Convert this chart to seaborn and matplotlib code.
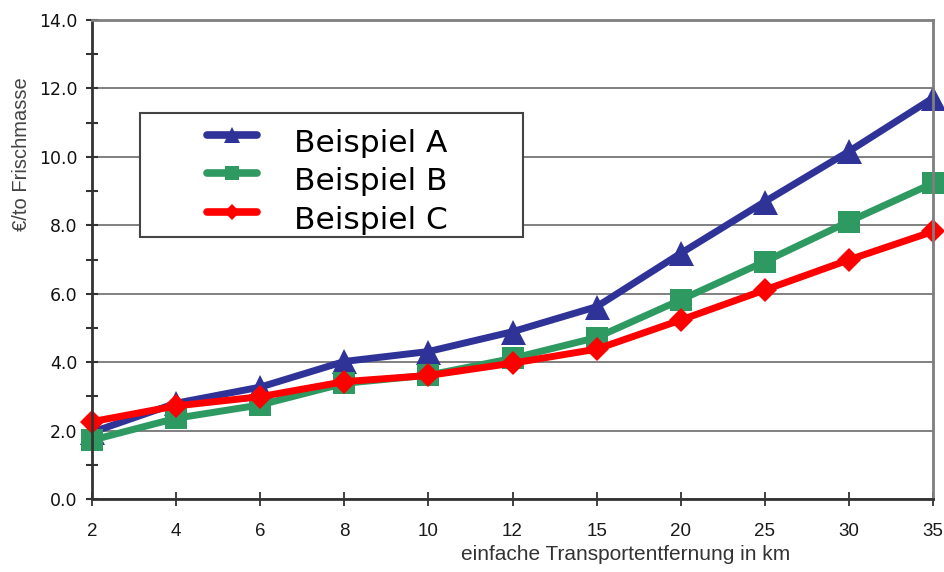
import numpy as np
import pandas as pd
import matplotlib
matplotlib.use("Agg")
import matplotlib.pyplot as plt
import seaborn as sns
from matplotlib.lines import Line2D
from matplotlib.patches import Rectangle
from matplotlib.legend_handler import HandlerLine2D

# Transportkosten je Tonne Frischmasse nach einfacher Entfernung
distances = ["2", "4", "6", "8", "10", "12", "15", "20", "25", "30", "35"]
beispiel_a = [1.95, 2.80, 3.27, 4.02, 4.31, 4.89, 5.62, 7.18, 8.69, 10.16, 11.72]
beispiel_b = [1.72, 2.36, 2.75, 3.38, 3.62, 4.11, 4.72, 5.82, 6.94, 8.11, 9.23]
beispiel_c = [2.26, 2.72, 2.99, 3.43, 3.61, 3.97, 4.38, 5.23, 6.11, 6.99, 7.82]
series_names = ["Beispiel A", "Beispiel B", "Beispiel C"]
y_ticks = [0, 2, 4, 6, 8, 10, 12, 14]

colors = ["#2F3398", "#2E9A62", "#FF0000"]
markers = ["^", "s", "D"]
marker_sizes = [18, 16.5, 12.5]
legend_marker_sizes = [11, 10, 8]

df = pd.DataFrame({
    "km": distances * 3,
    "kosten": beispiel_a + beispiel_b + beispiel_c,
    "serie": np.repeat(series_names, len(distances)),
})


class RaisedLineHandler(HandlerLine2D):
    """Legend sample drawn slightly above the text's vertical centre."""

    def create_artists(self, legend, orig_handle, xdescent, ydescent,
                       width, height, fontsize, trans):
        artists = super().create_artists(legend, orig_handle, xdescent, ydescent,
                                         width, height, fontsize, trans)
        for art in artists:
            art.set_ydata(np.asarray(art.get_ydata()) + 0.28 * height)
        return artists


sns.set_style("white")
plt.rcParams["font.family"] = ["Liberation Sans", "DejaVu Sans"]

fig = plt.figure(figsize=(9.44, 5.72), dpi=100)
ax = fig.add_axes([92 / 944, 73 / 572, 841 / 944, 479 / 572])

for name, col, mk, ms in zip(series_names, colors, markers, marker_sizes):
    sns.pointplot(
        data=df[df["serie"] == name], x="km", y="kosten", order=distances,
        color=col, markers=mk, markersize=ms, linewidth=5,
        markeredgewidth=0, errorbar=None, ax=ax, clip_on=False,
    )

ax.set_xlim(0, len(distances) - 1)
ax.set_ylim(0, 14)
ax.set_yticks(y_ticks)
ax.set_yticklabels([f"{v:.1f}" for v in y_ticks], fontfamily="DejaVu Sans",
                   fontsize=12.5, color="#111111")
ax.set_yticks(np.arange(1, 14, 2), minor=True)

ax.set_axisbelow(True)
ax.yaxis.grid(True, which="major", color="#808080", linewidth=1.4)
ax.xaxis.grid(False)

for side in ("left", "bottom"):
    ax.spines[side].set_color("#333333")
    ax.spines[side].set_linewidth(2)
for side in ("top", "right"):
    ax.spines[side].set_color("#7F7F7F")
    ax.spines[side].set_linewidth(2)
    ax.spines[side].set_visible(True)

ax.tick_params(axis="y", which="both", direction="inout", length=9, width=1.5,
               color="#333333", pad=6, left=True)
ax.tick_params(axis="x", direction="inout", length=10, width=1.3,
               color="#333333", pad=12, labelsize=13.5, labelcolor="#1A1A1A",
               bottom=True)

ax.set_xlabel("einfache Transportentfernung in km", fontsize=15, color="#333333")
ax.xaxis.set_label_coords(0.634, -0.097)
ax.set_ylabel("€/to Frischmasse", fontsize=14.5, color="#444444")
ax.yaxis.set_label_coords(-0.072, 0.72)

# Legendenrahmen
ax.add_patch(Rectangle((0.0571, 0.547), 0.4554, 0.2589, transform=ax.transAxes,
                       facecolor="white", edgecolor="#444444", linewidth=1.5,
                       zorder=3))

handles = [
    Line2D([], [], color=c, linewidth=5.5, marker=m, markersize=s,
           markeredgewidth=0, solid_capstyle="round")
    for c, m, s in zip(colors, markers, legend_marker_sizes)
]
leg = ax.legend(handles, series_names, loc="center left",
                bbox_to_anchor=(0.1367, 0.662), frameon=False,
                handlelength=1.6, handletextpad=1.2, labelspacing=0.3,
                borderpad=0, borderaxespad=0,
                handler_map={Line2D: RaisedLineHandler()},
                prop={"family": "DejaVu Sans", "size": 22.5})
for txt in leg.get_texts():
    txt.set_color("black")
leg.set_zorder(5)

fig.savefig("out.png", dpi=100)
